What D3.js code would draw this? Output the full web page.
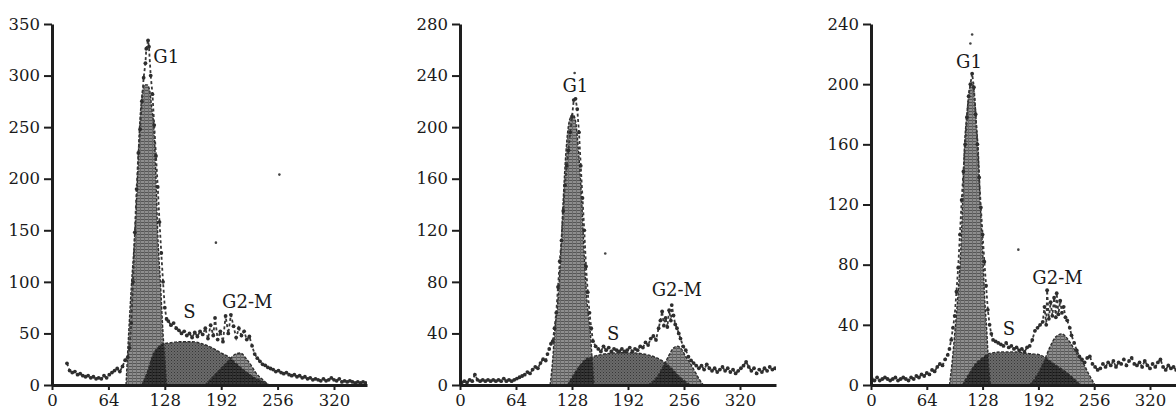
<!DOCTYPE html>
<html><head><meta charset="utf-8">
<script src="https://cdn.jsdelivr.net/npm/d3@7"></script>
<style>
html,body{margin:0;padding:0;background:#fff;}
svg{display:block;}
</style></head><body>
<svg id="chart" width="1176" height="410"></svg>
<script>
// ---------- data ----------
const xTicks = [0, 64, 128, 192, 256, 320];
const p1YTicks = [0, 50, 100, 150, 200, 250, 300, 350];
const p2YTicks = [0, 40, 80, 120, 160, 200, 240, 280];
const p3YTicks = [0, 40, 80, 120, 160, 200, 240];
const phaseNames = ["G1", "S", "G2-M"];

// raw histogram counts [channel, count]
const p1Raw = [[17,21],[20,14],[23,12],[26,13],[29,10],[32,11],[35,9],[38,8],[41,9],[44,7],[47,8],[50,6],[53,7],[56,6],[59,9],[62,7],[65,10],[68,12],[71,14],[74,16],[77,13],[80,18],[83,24],[86,27],[88,36],[90,60],[92,100],[94,148],[96,190],[98,225],[100,248],[102,275],[104,298],[106,312],[107,326],[109,334],[110,328],[112,300],[114,282],[116,252],[118,222],[120,192],[122,158],[124,128],[126,100],[128,75],[130,64],[132,62],[135,58],[138,60],[141,55],[144,53],[147,50],[150,52],[153,48],[156,50],[159,46],[162,51],[165,47],[168,52],[171,49],[174,55],[177,45],[180,58],[183,48],[185,65],[188,44],[191,52],[194,42],[197,67],[200,50],[203,68],[206,57],[209,46],[212,55],[215,48],[218,52],[221,44],[224,47],[227,38],[230,30],[233,26],[236,23],[239,20],[242,19],[245,17],[248,16],[251,15],[254,13],[257,14],[260,12],[263,11],[266,12],[269,10],[272,9],[275,10],[278,8],[281,9],[284,7],[287,8],[290,6],[293,7],[296,5],[299,6],[302,5],[305,4],[308,6],[311,4],[314,5],[317,7],[320,5],[323,4],[326,6],[329,3],[332,4],[335,3],[338,4],[341,3],[344,2],[347,3],[350,2],[353,3],[356,2]];
const p2Raw = [[2,2],[5,3],[8,2],[11,4],[14,3],[17,8],[20,4],[23,3],[26,4],[29,3],[32,4],[35,3],[38,4],[41,3],[44,4],[47,3],[50,5],[53,3],[56,4],[59,3],[62,4],[65,5],[68,6],[71,7],[74,8],[77,10],[80,9],[83,12],[86,14],[89,13],[92,17],[95,20],[98,19],[100,24],[102,28],[104,32],[106,34],[108,44],[110,56],[112,76],[114,96],[116,112],[118,135],[120,155],[122,170],[124,182],[126,196],[128,208],[130,221],[132,222],[134,214],[136,196],[138,170],[140,145],[142,120],[144,92],[146,72],[148,56],[150,44],[152,34],[155,30],[158,28],[161,26],[164,30],[167,27],[170,29],[173,26],[176,28],[179,27],[182,26],[185,28],[188,26],[191,27],[194,29],[197,26],[200,28],[203,27],[206,30],[209,29],[212,33],[215,31],[218,36],[221,38],[224,35],[227,44],[229,50],[231,57],[233,46],[235,52],[237,45],[239,58],[241,50],[242,62],[244,54],[246,47],[248,44],[250,40],[252,36],[255,30],[258,27],[261,22],[264,19],[267,17],[270,15],[273,13],[276,15],[279,12],[282,16],[285,13],[288,11],[291,13],[294,10],[297,12],[300,14],[303,11],[306,13],[309,10],[312,12],[315,9],[318,11],[321,13],[324,15],[327,18],[330,14],[333,11],[336,13],[339,9],[342,12],[345,10],[348,13],[351,11],[354,14],[357,12],[360,13]];
const p3Raw = [[1,4],[4,3],[7,5],[10,3],[13,4],[16,5],[19,4],[22,3],[25,4],[28,5],[31,3],[34,4],[37,5],[40,4],[43,3],[46,5],[49,4],[52,6],[55,5],[58,7],[61,6],[64,8],[67,7],[70,10],[73,9],[76,12],[79,14],[82,13],[85,17],[88,20],[90,24],[92,30],[94,38],[96,46],[98,62],[100,78],[102,100],[104,123],[106,142],[108,160],[110,178],[112,192],[114,200],[116,207],[118,198],[120,180],[122,160],[124,138],[126,118],[128,100],[130,82],[132,66],[134,50],[136,40],[138,34],[140,30],[143,29],[146,28],[149,27],[152,26],[155,28],[158,25],[161,26],[164,24],[167,25],[170,23],[173,24],[176,22],[179,25],[182,26],[185,30],[188,36],[191,38],[194,40],[197,42],[199,52],[201,40],[202,63],[204,44],[206,55],[208,46],[210,58],[212,45],[213,61],[215,47],[217,56],[219,48],[221,52],[223,45],[225,43],[228,38],[230,33],[233,28],[236,23],[239,19],[242,17],[245,15],[248,18],[251,19],[254,14],[257,12],[260,10],[263,11],[266,14],[269,12],[272,15],[275,13],[278,16],[281,12],[284,15],[287,14],[290,17],[293,13],[296,16],[299,18],[302,14],[305,13],[308,15],[311,12],[314,16],[317,13],[320,11],[323,14],[326,12],[329,15],[332,17],[335,12],[338,10],[341,13],[344,11],[347,12],[350,10]];

// isolated events
const p1Stray = [[258,204],[186,138]];
const p2Stray = [[131,242],[166,102]];
const p3Stray = [[116,233],[114,227],[169,90]];

// fitted components [channel, count]
const p1G1 = [[84,0],[87,50],[90,95],[94,147],[97,200],[99,244],[102,280],[105,291],[108,291],[111,285],[113,270],[116,244],[118,200],[120,147],[123,100],[126,50],[128,25],[130,0]];
const p1S  = [[102,0],[108,12],[115,30],[120,36],[126,40],[135,41],[145,42],[159,42],[170,40],[182,36],[190,32],[201,27],[210,20],[220,13],[230,7],[240,3],[246,0]];
const p1G2 = [[174,0],[185,10],[195,19],[203,26],[208,30],[214,31],[220,26],[226,19],[232,11],[238,6],[246,0]];

const p2G1 = [[103,0],[106,20],[108,40],[112,66],[115,100],[118,144],[121,180],[125,205],[129,210],[132,205],[135,185],[139,144],[142,100],[145,66],[149,40],[151,20],[153,0]];
const p2S  = [[123,0],[130,8],[137,15],[144,20],[152,22],[165,24],[180,25],[195,25],[210,24],[225,21],[235,17],[243,12],[250,7],[257,3],[263,0]];
const p2G2 = [[215,0],[225,6],[232,14],[238,22],[243,28],[248,30],[253,28],[258,22],[263,17],[268,11],[273,5],[278,0]];

const p3G1 = [[90,0],[93,15],[96,34],[100,62],[103,90],[105,120],[107,156],[110,180],[113,197],[116,201],[119,190],[121,172],[123,156],[125,125],[128,90],[130,62],[133,34],[135,12],[137,0]];
const p3S  = [[105,0],[112,7],[120,14],[128,18],[136,21],[150,22],[165,22],[180,21],[194,20],[205,16],[215,12],[225,8],[233,4],[240,0]];
const p3G2 = [[182,0],[190,6],[198,15],[205,25],[212,32],[219,34],[225,31],[232,25],[238,19],[243,15],[250,7],[257,0]];

// ---------- layout ----------
const panels = [
  {raw:p1Raw, stray:p1Stray, g1:p1G1, s:p1S, g2:p1G2, yTicks:p1YTicks,
   ax:52, x320:334, xEnd:367, yTop:24, yBot:385,
   labelPos:[[115,312],[149,65],[193,75]]},
  {raw:p2Raw, stray:p2Stray, g1:p2G1, s:p2S, g2:p2G2, yTicks:p2YTicks,
   ax:460, x320:740, xEnd:776, yTop:24, yBot:385,
   labelPos:[[117,227],[168,35],[219,69]]},
  {raw:p3Raw, stray:p3Stray, g1:p3G1, s:p3S, g2:p3G2, yTicks:p3YTicks,
   ax:871, x320:1150, xEnd:1176, yTop:24, yBot:385,
   labelPos:[[97.5,211],[151,33],[185,67]]}
];

const svg = d3.select("#chart");
const defs = svg.append("defs");

// hatch pattern for G1 / G2
const ph = defs.append("pattern").attr("id","hatch").attr("patternUnits","userSpaceOnUse")
  .attr("width",4).attr("height",3);
ph.append("rect").attr("width",4).attr("height",3).attr("fill","#8e8e8e");
ph.append("rect").attr("width",4).attr("height",1).attr("fill","#565656");
ph.append("rect").attr("width",1).attr("height",3).attr("fill","#6c6c6c");

// dotted pattern for S
const ps = defs.append("pattern").attr("id","dots").attr("patternUnits","userSpaceOnUse")
  .attr("width",3).attr("height",3);
ps.append("rect").attr("width",3).attr("height",3).attr("fill","#6a6a6a");
ps.append("rect").attr("width",1).attr("height",1).attr("fill","#363636");
ps.append("rect").attr("x",1.5).attr("y",1.5).attr("width",1).attr("height",1).attr("fill","#464646");

const FONT = "'DejaVu Serif', 'Liberation Serif', serif";

panels.forEach((p, i) => {
  const xMax = 320 * (p.xEnd - p.ax) / (p.x320 - p.ax);
  const x = d3.scaleLinear().domain([0, xMax]).range([p.ax, p.xEnd]);
  const yMax = p.yTicks[p.yTicks.length - 1];
  const y = d3.scaleLinear().domain([0, yMax]).range([p.yBot, p.yTop]);
  const g = svg.append("g");

  const clipId = "clip" + i;
  defs.append("clipPath").attr("id", clipId).append("rect")
    .attr("x", p.ax).attr("y", 0).attr("width", p.xEnd - p.ax).attr("height", p.yBot);

  const plot = g.append("g").attr("clip-path", `url(#${clipId})`).style("isolation","isolate");

  const area = d3.area().x(d => x(d[0])).y0(y(0)).y1(d => y(d[1])).curve(d3.curveMonotoneX);
  const top = d3.line().x(d => x(d[0])).y(d => y(d[1])).curve(d3.curveMonotoneX);

  plot.append("path").datum(p.s).attr("d", area).attr("fill", "url(#dots)");
  plot.append("path").datum(p.g1).attr("d", area).attr("fill", "url(#hatch)")
    .style("mix-blend-mode","multiply");
  plot.append("path").datum(p.g2).attr("d", area).attr("fill", "url(#hatch)")
    .style("mix-blend-mode","multiply");
  [p.s, p.g1, p.g2].forEach(c => {
    plot.append("path").datum(c).attr("d", top).attr("fill","none")
      .attr("stroke","#2e2e2e").attr("stroke-width",1.4).attr("stroke-dasharray","3,1.5");
  });

  const line = d3.line().x(d => x(d[0])).y(d => y(d[1]));
  plot.append("path").datum(p.raw).attr("d", line).attr("fill","none")
    .attr("stroke","#383838").attr("stroke-width",1.8).attr("stroke-dasharray","3,2.5");
  plot.selectAll("circle.raw").data(p.raw).join("circle").attr("class","raw")
    .attr("cx", d => x(d[0])).attr("cy", d => y(d[1])).attr("r", 1.9).attr("fill","#2e2e2e");
  plot.selectAll("circle.stray").data(p.stray).join("circle").attr("class","stray")
    .attr("cx", d => x(d[0])).attr("cy", d => y(d[1])).attr("r", 1.3).attr("fill","#444");

  // axes
  const yAxis = d3.axisLeft(y).tickValues(p.yTicks).tickSize(8).tickSizeOuter(0).tickPadding(4);
  const ga = g.append("g").attr("transform", `translate(${p.ax},0)`).call(yAxis);
  const xAxis = d3.axisBottom(x).tickValues(xTicks).tickSize(5).tickSizeOuter(0).tickPadding(4);
  const gx = g.append("g").attr("transform", `translate(0,${p.yBot})`).call(xAxis);
  [ga, gx].forEach(a => {
    a.attr("font-family", FONT).attr("font-size", 16.5);
    a.select(".domain").attr("stroke","#1e1e1e").attr("stroke-width",3);
    a.selectAll(".tick line").attr("stroke","#1e1e1e").attr("stroke-width",2);
    a.selectAll(".tick text").attr("fill","#1a1a1a");
  });

  // phase labels
  g.selectAll("text.phase").data(phaseNames).join("text").attr("class","phase")
    .attr("x", (d, k) => x(p.labelPos[k][0]))
    .attr("y", (d, k) => y(p.labelPos[k][1]))
    .attr("font-family", FONT).attr("font-size", 18).attr("fill","#1a1a1a")
    .text(d => d);
});
</script>
</body></html>
